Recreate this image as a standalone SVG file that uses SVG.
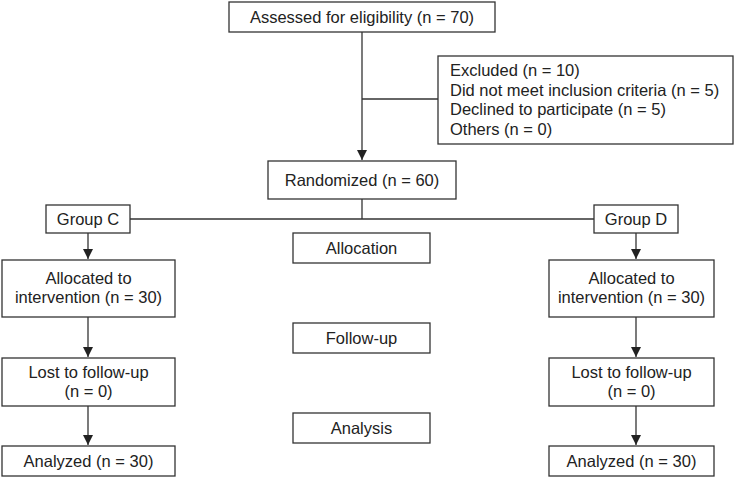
<svg xmlns="http://www.w3.org/2000/svg" width="735" height="477" viewBox="0 0 735 477">
<style>
rect{fill:#fff;stroke:#333;stroke-width:1.3}
text{font-family:"Liberation Sans",Arial,sans-serif;font-size:16.5px;fill:#222}
.c{text-anchor:middle}
.ln{stroke:#333;stroke-width:1.3;fill:none}
</style>
<defs>
<marker id="ah" viewBox="0 0 10 10" refX="10" refY="5" markerWidth="10" markerHeight="10" markerUnits="userSpaceOnUse" orient="auto">
<path d="M0,0 L10,5 L0,10 Z" fill="#222"/>
</marker>
</defs>
<g id="connectors">
<line class="ln" x1="362" y1="32" x2="362" y2="160" marker-end="url(#ah)"/>
<line class="ln" x1="362" y1="99" x2="438" y2="99"/>
<line class="ln" x1="362" y1="199" x2="362" y2="219"/>
<line class="ln" x1="130" y1="219" x2="594" y2="219"/>
<line class="ln" x1="88" y1="233" x2="88" y2="259" marker-end="url(#ah)"/>
<line class="ln" x1="88" y1="317" x2="88" y2="357" marker-end="url(#ah)"/>
<line class="ln" x1="88" y1="406" x2="88" y2="445" marker-end="url(#ah)"/>
<line class="ln" x1="636" y1="233" x2="636" y2="259" marker-end="url(#ah)"/>
<line class="ln" x1="636" y1="317" x2="636" y2="357" marker-end="url(#ah)"/>
<line class="ln" x1="636" y1="406" x2="636" y2="445" marker-end="url(#ah)"/>
</g>
<g id="assessed"><rect x="229" y="2" width="266" height="30"/><text class="c" x="362" y="23">Assessed for eligibility (n = 70)</text></g>
<g id="excluded"><rect x="438" y="56" width="295" height="88"/>
<text x="450" y="76">Excluded (n = 10)</text>
<text x="450" y="95.5">Did not meet inclusion criteria (n = 5)</text>
<text x="450" y="115">Declined to participate (n = 5)</text>
<text x="450" y="134.5">Others (n = 0)</text></g>
<g id="randomized"><rect x="268" y="161" width="188" height="38"/><text class="c" x="362" y="186">Randomized (n = 60)</text></g>
<g id="groupC"><rect x="46" y="205" width="84" height="28"/><text class="c" x="88" y="225">Group C</text></g>
<g id="groupD"><rect x="594" y="205" width="84" height="28"/><text class="c" x="636" y="225">Group D</text></g>
<g id="allocation"><rect x="293" y="233" width="137" height="30"/><text class="c" x="361.5" y="254">Allocation</text></g>
<g id="followup"><rect x="293" y="323" width="137" height="30"/><text class="c" x="361.5" y="344">Follow-up</text></g>
<g id="analysis"><rect x="293" y="413" width="137" height="30"/><text class="c" x="361.5" y="434">Analysis</text></g>
<g id="allocC"><rect x="2" y="260" width="173" height="57"/><text class="c" x="88.5" y="284">Allocated to</text><text class="c" x="88.5" y="303">intervention (n = 30)</text></g>
<g id="lostC"><rect x="2" y="358" width="173" height="48"/><text class="c" x="88.5" y="378">Lost to follow-up</text><text class="c" x="88.5" y="397">(n = 0)</text></g>
<g id="analyzedC"><rect x="2" y="446" width="173" height="30"/><text class="c" x="88.5" y="467">Analyzed (n = 30)</text></g>
<g id="allocD"><rect x="549" y="260" width="165" height="57"/><text class="c" x="631.5" y="284">Allocated to</text><text class="c" x="631.5" y="303">intervention (n = 30)</text></g>
<g id="lostD"><rect x="549" y="358" width="165" height="48"/><text class="c" x="631.5" y="378">Lost to follow-up</text><text class="c" x="631.5" y="397">(n = 0)</text></g>
<g id="analyzedD"><rect x="549" y="446" width="165" height="30"/><text class="c" x="631.5" y="467">Analyzed (n = 30)</text></g>
</svg>
